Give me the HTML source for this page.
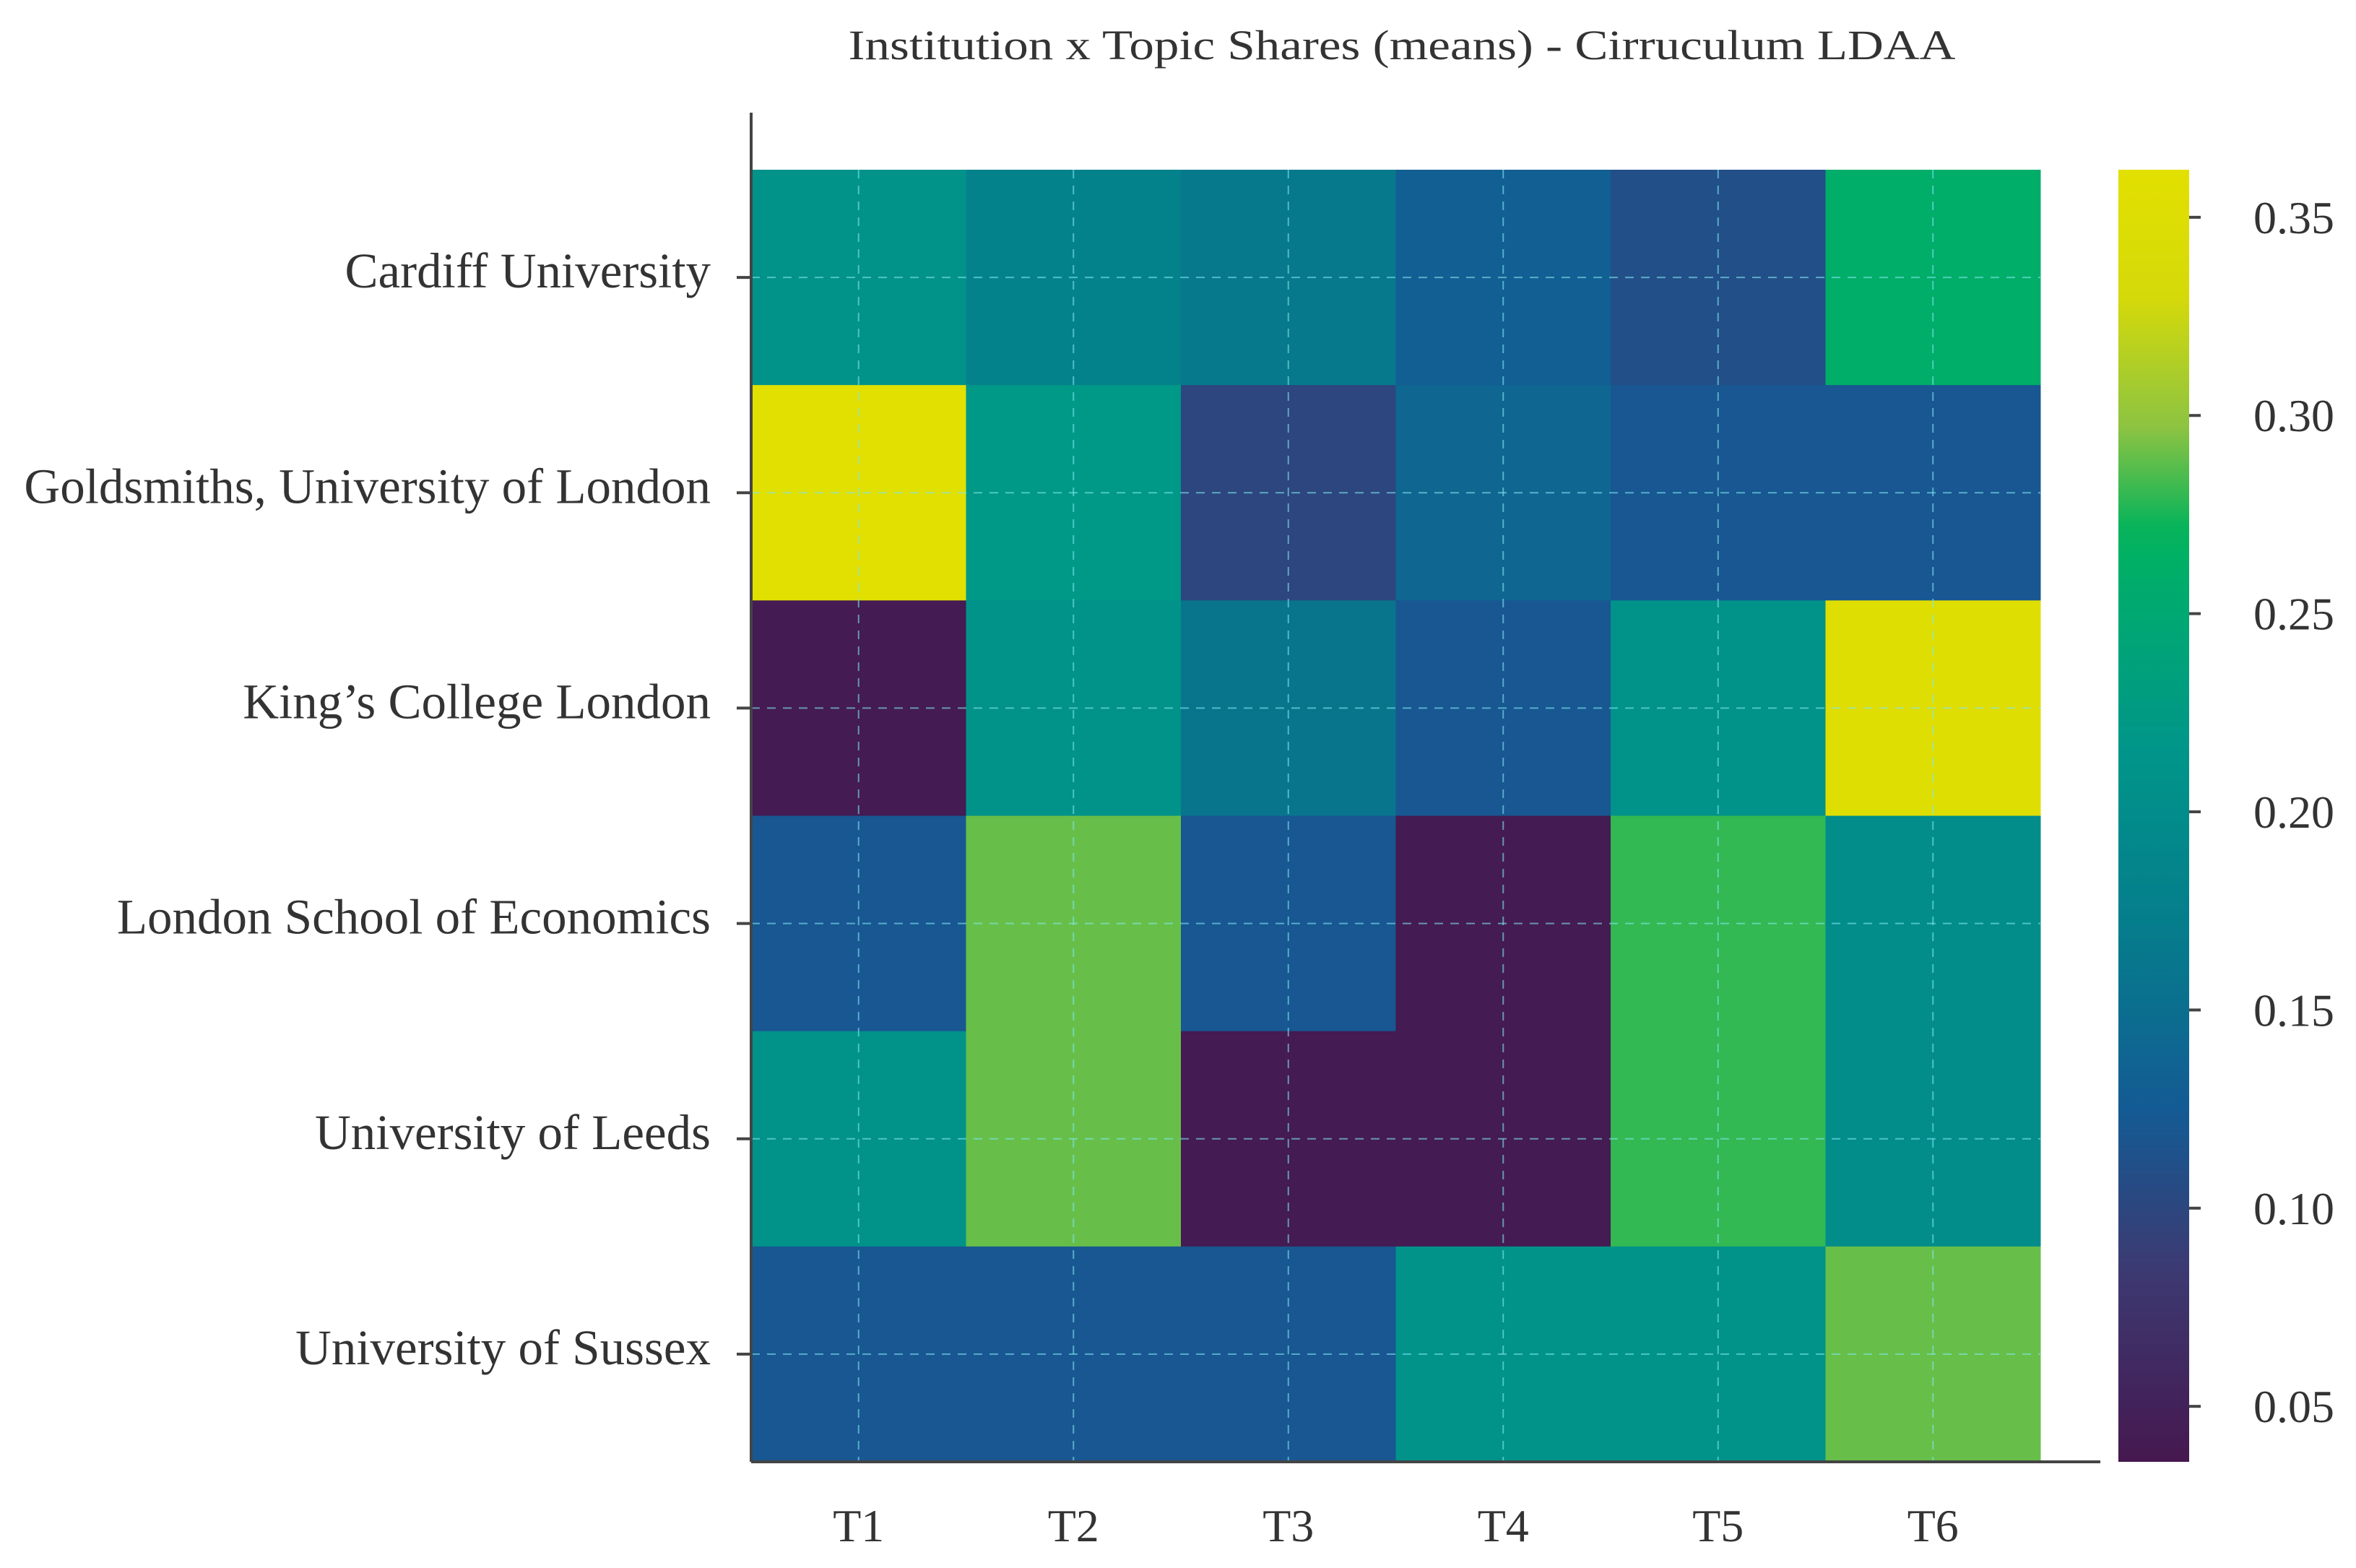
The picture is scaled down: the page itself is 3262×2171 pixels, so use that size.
<!DOCTYPE html>
<html><head><meta charset="utf-8"><style>
html,body{margin:0;padding:0;background:#fff;}
svg{display:block;}
text{font-family:"Liberation Serif",serif;fill:#333;}
</style></head><body>
<svg id="chart" width="3262" height="2171" viewBox="0 0 3262 2171" xmlns="http://www.w3.org/2000/svg">
<rect width="3262" height="2171" fill="#fff"/>
<text x="1941" y="82" text-anchor="middle" font-size="58" textLength="1533" lengthAdjust="spacingAndGlyphs">Institution x Topic Shares (means) - Cirruculum LDAA</text>
<g id="cells"></g>
<g id="grid"></g>
<g id="axes"></g>
<g id="cbar"></g>
</svg>
<script>
const institutions = ["Cardiff University","Goldsmiths, University of London","King\u2019s College London","London School of Economics","University of Leeds","University of Sussex"];
const topics = ["T1","T2","T3","T4","T5","T6"];
const shares = [
 [0.21,0.18,0.165,0.13,0.11,0.26],
 [0.36,0.22,0.10,0.14,0.12,0.12],
 [0.04,0.21,0.16,0.12,0.21,0.355],
 [0.12,0.29,0.12,0.04,0.28,0.20],
 [0.21,0.29,0.04,0.04,0.28,0.20],
 [0.12,0.12,0.12,0.21,0.21,0.29]
];
const cbarTicks = [0.05,0.10,0.15,0.20,0.25,0.30,0.35];
const vMin = 0.036, vMax = 0.362;

const NS="http://www.w3.org/2000/svg";
function mk(tag,attrs,parent){const e=document.createElementNS(NS,tag);for(const k in attrs)e.setAttribute(k,attrs[k]);parent.appendChild(e);return e;}
const L=1040,R=2825,T=235,B=2024;
const cw=(R-L)/topics.length, ch=(B-T)/institutions.length;
const xs=i=>L+i*cw, ys=j=>T+j*ch;
const cmapPos=[0,0.15,0.27,0.4,0.55,0.68,0.72,0.8,0.9,1];
const cmapCol=[[69,24,79],[60,58,114],[20,90,148],[6,122,140],[0,149,138],[0,172,108],[0,179,92],[140,195,66],[212,217,10],[226,224,0]];
function color(v){let t=(v-vMin)/(vMax-vMin);t=Math.max(0,Math.min(1,t));let i=0;while(i<cmapPos.length-2&&t>cmapPos[i+1])i++;const f=(t-cmapPos[i])/(cmapPos[i+1]-cmapPos[i]);const c=cmapCol[i].map((a,k)=>Math.round(a+(cmapCol[i+1][k]-a)*f));return `rgb(${c[0]},${c[1]},${c[2]})`;}
const cells=document.getElementById('cells');
shares.forEach((row,j)=>row.forEach((v,i)=>{
 const r=mk('rect',{x:xs(i),y:ys(j),width:cw+0.5,height:ch+0.5,fill:color(v)},cells);
 
 
}));
const grid=document.getElementById('grid');
topics.forEach((t,i)=>{const x=xs(i+0.5);mk('line',{x1:x,y1:T,x2:x,y2:B,stroke:'#7fe8f0','stroke-width':2,'stroke-dasharray':'12 10',opacity:0.6},grid);});
institutions.forEach((n,j)=>{const y=ys(j+0.5);mk('line',{x1:L,y1:y,x2:R,y2:y,stroke:'#7fe8f0','stroke-width':2,'stroke-dasharray':'12 10',opacity:0.6},grid);});
const ax=document.getElementById('axes');
mk('line',{x1:L,y1:156,x2:L,y2:B,stroke:'#444','stroke-width':4},ax);
mk('line',{x1:L,y1:B,x2:2908,y2:B,stroke:'#444','stroke-width':4},ax);
institutions.forEach((n,j)=>{const y=ys(j+0.5);
 mk('line',{x1:1020,y1:y,x2:L,y2:y,stroke:'#444','stroke-width':4},ax);
 const t=mk('text',{x:984,y:y+14,'text-anchor':'end','font-size':69},ax);t.textContent=n;
 
 
});
topics.forEach((n,i)=>{const x=xs(i+0.5);
 const t=mk('text',{x:x,y:2134,'text-anchor':'middle','font-size':64},ax);t.textContent=n;
 
 
});
const cb=document.getElementById('cbar');
const cbL=2933,cbR=3031;
const defs=mk('defs',{},cb);
const g=mk('linearGradient',{id:'cg',x1:0,y1:1,x2:0,y2:0},defs);
for(let k=0;k<=40;k++){const v=vMin+(vMax-vMin)*k/40;mk('stop',{offset:k/40,'stop-color':color(v)},g);}
mk('rect',{x:cbL,y:T,width:cbR-cbL,height:B-T,fill:'url(#cg)'},cb);
const cy=v=>B-(v-vMin)/(vMax-vMin)*(B-T);
cbarTicks.forEach(v=>{const y=cy(v);
 mk('line',{x1:cbR,y1:y,x2:cbR+16,y2:y,stroke:'#444','stroke-width':4},cb);
 const t=mk('text',{x:3120,y:y+22,'font-size':64},cb);t.textContent=v.toFixed(2);
 
 
});
</script>
</body></html>
